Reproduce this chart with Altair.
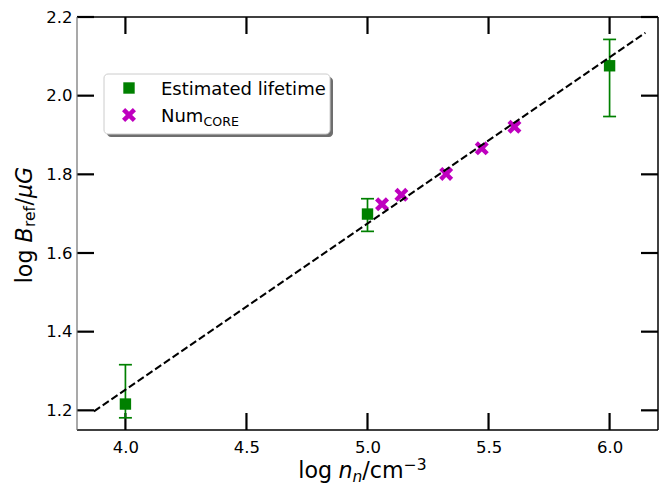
import altair as alt
import pandas as pd

# ---- data ----
est_x = [4.0, 5.0, 6.0]
est_y = [1.216, 1.699, 2.076]
est_lo = [1.181, 1.655, 1.947]
est_hi = [1.316, 1.738, 2.143]

core_x = [5.060, 5.140, 5.325, 5.472, 5.607]
core_y = [1.724, 1.748, 1.801, 1.866, 1.921]

fit_x = [3.870, 6.148]
fit_y = [1.1975, 2.160]

x_ticks = [4.0, 4.5, 5.0, 5.5, 6.0]
y_ticks = [1.2, 1.4, 1.6, 1.8, 2.0, 2.2]
x_domain = [3.8, 6.2]
y_domain = [1.15, 2.2]

W, H = 581, 413
FONT = "DejaVu Sans"
GREEN = "#008000"
MAGENTA = "#bf00bf"

est = pd.DataFrame({"x": est_x, "y": est_y, "lo": est_lo, "hi": est_hi})
core = pd.DataFrame({"x": core_x, "y": core_y})
fit = pd.DataFrame({"x": fit_x, "y": fit_y})
xt = pd.DataFrame({"v": x_ticks})
yt = pd.DataFrame({"v": y_ticks})
dummy = pd.DataFrame({"a": [0]})

xscale = alt.Scale(domain=x_domain, nice=False, zero=False)
yscale = alt.Scale(domain=y_domain, nice=False, zero=False)
xaxis = alt.Axis(values=x_ticks, format=".1f", title=None, grid=False, domain=False,
                 ticks=False, labelPadding=9, labelFontSize=16.5, labelFont=FONT,
                 labelColor="black")
yaxis = alt.Axis(values=y_ticks, format=".1f", title=None, grid=False, domain=False,
                 ticks=False, labelPadding=5, labelFontSize=16.5, labelFont=FONT,
                 labelColor="black")


def X(f):
    return alt.X(f + ":Q", scale=xscale, axis=xaxis)


def Y(f):
    return alt.Y(f + ":Q", scale=yscale, axis=yaxis)


def Y2(f):
    return alt.Y2(f)


TL = 17
# inward ticks
tick_b = alt.Chart(xt).mark_rule(color="black", strokeWidth=2.2).encode(
    x=X("v"), y=alt.value(H), y2=alt.value(H - TL))
tick_t = alt.Chart(xt).mark_rule(color="black", strokeWidth=2.2).encode(
    x=X("v"), y=alt.value(0), y2=alt.value(TL))
tick_l = alt.Chart(yt).mark_rule(color="black", strokeWidth=2.2).encode(
    y=Y("v"), x=alt.value(0), x2=alt.value(TL))
tick_r = alt.Chart(yt).mark_rule(color="black", strokeWidth=2.2).encode(
    y=Y("v"), x=alt.value(W - TL), x2=alt.value(W))

# spines
sp_top = alt.Chart(dummy).mark_rule(color="black", strokeWidth=1.5).encode(
    x=alt.value(0), x2=alt.value(W), y=alt.value(0))
sp_bot = alt.Chart(dummy).mark_rule(color="black", strokeWidth=1.5).encode(
    x=alt.value(0), x2=alt.value(W), y=alt.value(H))
sp_right = alt.Chart(dummy).mark_rule(color="black", strokeWidth=1.5).encode(
    x=alt.value(W), y=alt.value(0), y2=alt.value(H))
sp_left = alt.Chart(dummy).mark_rule(color="#707070", strokeWidth=1.2).encode(
    x=alt.value(0), y=alt.value(0), y2=alt.value(H))

# error bars
err = alt.Chart(est).mark_rule(color=GREEN, strokeWidth=1.7).encode(
    x=X("x"), y=Y("lo"), y2=Y2("hi"))
cap_lo = alt.Chart(est).mark_tick(color=GREEN, orient="horizontal", size=13,
                                  thickness=1.7, opacity=1).encode(x=X("x"), y=Y("lo"))
cap_hi = alt.Chart(est).mark_tick(color=GREEN, orient="horizontal", size=13,
                                  thickness=1.7, opacity=1).encode(x=X("x"), y=Y("hi"))

XPATH = ("M-1,-0.55 L-0.55,-1 L0,-0.45 L0.55,-1 L1,-0.55 L0.45,0 L1,0.55 "
         "L0.55,1 L0,0.45 L-0.55,1 L-1,0.55 L-0.45,0 Z")

squares = alt.Chart(est).mark_point(shape="square", filled=True, size=130,
                                    color=GREEN, opacity=1).encode(x=X("x"), y=Y("y"))
crosses = alt.Chart(core).mark_point(shape=XPATH, filled=True, size=196,
                                     color=MAGENTA, opacity=1).encode(x=X("x"), y=Y("y"))
line = alt.Chart(fit).mark_line(color="black", strokeWidth=2,
                                strokeDash=[7.4, 3.2]).encode(x=X("x"), y=Y("y"))


def txt(s, x, y, size, style="normal", angle=0):
    return alt.Chart(dummy).mark_text(
        text=s, align="left", baseline="alphabetic", fontSize=size, fontStyle=style,
        angle=angle, font=FONT, color="black").encode(x=alt.value(x), y=alt.value(y))


# legend (drawn by hand to keep the subscript)
shadow = alt.Chart(dummy).mark_rect(fill="#555555", opacity=0.85, cornerRadius=4).encode(
    x=alt.value(30), x2=alt.value(256), y=alt.value(60), y2=alt.value(120))
box = alt.Chart(dummy).mark_rect(fill="white", stroke="#cccccc", strokeWidth=1,
                                 cornerRadius=4).encode(
    x=alt.value(27), x2=alt.value(253), y=alt.value(57), y2=alt.value(117))
leg_sq = alt.Chart(dummy).mark_point(shape="square", filled=True, size=130, color=GREEN,
                                     opacity=1).encode(x=alt.value(52), y=alt.value(71))
leg_x = alt.Chart(dummy).mark_point(shape=XPATH, filled=True, size=196, color=MAGENTA,
                                    opacity=1).encode(x=alt.value(52), y=alt.value(98))
leg_t1 = txt("Estimated lifetime", 84, 78.3, 18)
leg_t2 = txt("Num", 84, 105, 18)
leg_t3 = txt("CORE", 126.5, 108.5, 12.6)

# axis titles (pieces for math formatting)
TS = 22.2
SS = 15.5
XB = 460.5
xt1 = txt("log", 221.3, XB, TS)
xt2 = txt("n", 261.5, XB, TS, "italic")
xt3 = txt("n", 275.5, XB + 4, SS, "italic")
xt4 = txt("/", 285.3, XB, TS)
xt5 = txt("cm", 292.8, XB, TS)
xt6 = txt("\u22123", 326.8, XB - 7.3, SS)

yx = -45.3
yt1 = txt("log", yx, 266.3, TS, angle=270)
yt2 = txt("B", yx, 225.5, TS, "italic", angle=270)
yt3 = txt("ref", yx + 3.5, 210.0, SS, angle=270)
yt4 = txt("/", yx, 188.6, TS, angle=270)
yt5 = txt("\u03bcG", yx, 181.0, TS, "italic", angle=270)

chart = alt.layer(
    tick_b, tick_t, tick_l, tick_r,
    sp_top, sp_bot, sp_right, sp_left,
    err, cap_lo, cap_hi, squares, crosses, line,
    shadow, box, leg_sq, leg_x, leg_t1, leg_t2, leg_t3,
    xt1, xt2, xt3, xt4, xt5, xt6,
    yt1, yt2, yt3, yt4, yt5,
).properties(
    width=W, height=H,
    padding={"left": 69, "top": 9, "right": 4, "bottom": 60},
    autosize=alt.AutoSizeParams(type="none"),
    background="white",
).configure_view(stroke=None)

chart.save("out.html", embed_options={"renderer": "svg", "actions": False})
